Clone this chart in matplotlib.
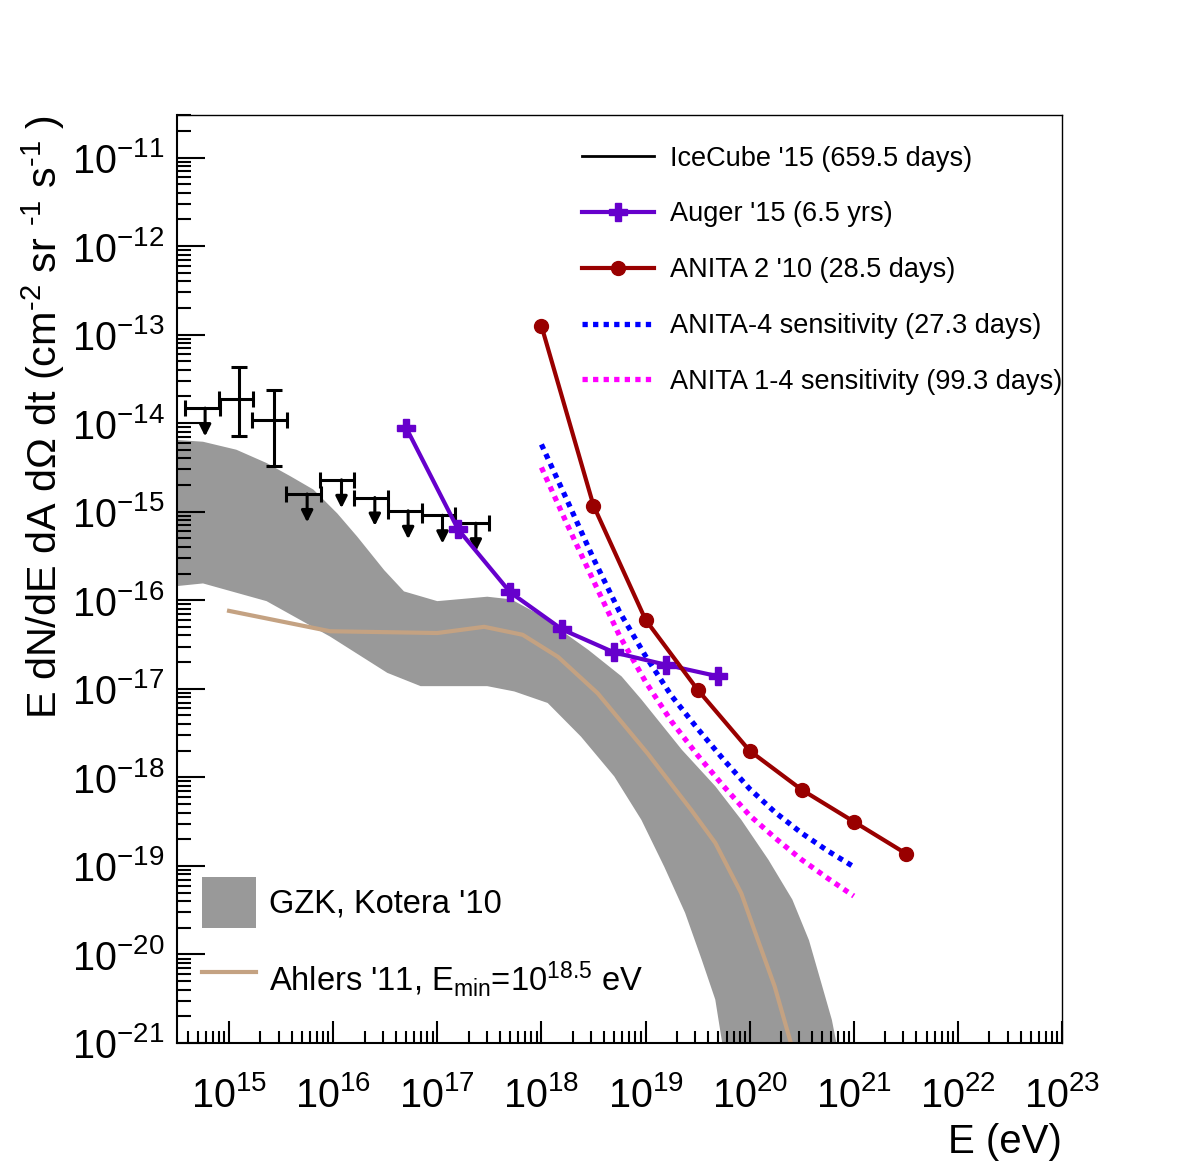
import numpy as np
import matplotlib as mpl
import matplotlib.pyplot as plt
from matplotlib.lines import Line2D
from matplotlib.patches import Patch
from matplotlib.ticker import LogLocator, NullFormatter, LogFormatterSciNotation

plt.rcParams['font.family'] = ['Liberation Sans', 'DejaVu Sans']
plt.rcParams['mathtext.fontset'] = 'custom'
plt.rcParams['mathtext.rm'] = 'Liberation Sans'
plt.rcParams['mathtext.it'] = 'Liberation Sans:italic'
plt.rcParams['mathtext.default'] = 'regular'

# ---- data (log10 E [eV], log10 flux) ----
# IceCube '15: bins, central values, upper limits
ic_lo = [14.58, 14.90, 15.22, 15.55, 15.87, 16.20, 16.53, 16.85, 17.17]
ic_hi = [14.91, 15.23, 15.56, 15.88, 16.20, 16.53, 16.85, 17.17, 17.50]
ic_x = [14.77, 15.10, 15.43, 15.75, 16.08, 16.40, 16.72, 17.05, 17.37]
ic_y = [-13.83, -13.73, -13.96, -14.80, -14.64, -14.84, -14.99, -15.04, -15.13]
ic_yup = [-13.83, -13.37, -13.62, -14.80, -14.64, -14.84, -14.99, -15.04, -15.13]
ic_ydn = [-13.83, -14.15, -14.48, -14.80, -14.64, -14.84, -14.99, -15.04, -15.13]
ic_ul = [1, 0, 0, 1, 1, 1, 1, 1, 1]

# Auger '15
auger_e = [16.7, 17.2, 17.7, 18.2, 18.7, 19.2, 19.7]
auger_f = [-14.05, -15.20, -15.91, -16.33, -16.59, -16.73, -16.86]

# ANITA 2 '10
anita2_e = [18.0, 18.5, 19.0, 19.5, 20.0, 20.5, 21.0, 21.5]
anita2_f = [-12.90, -14.93, -16.22, -17.01, -17.70, -18.14, -18.50, -18.86]

# ANITA-4 and ANITA 1-4 sensitivity
sens_e = [18.0, 18.25, 18.5, 18.75, 19.0, 19.25, 19.5, 19.75, 20.0, 20.25, 20.5, 20.75, 21.0]
anita4_f = [-14.24, -14.88, -15.53, -16.13, -16.63, -17.08, -17.45, -17.80, -18.13, -18.40, -18.63, -18.83, -19.01]
anita14_f = [-14.50, -15.15, -15.78, -16.40, -16.92, -17.37, -17.75, -18.10, -18.43, -18.69, -18.93, -19.14, -19.34]

# GZK Kotera '10 band
gzk_up_e = [14.50, 14.75, 15.07, 15.36, 15.59, 15.81, 16.04, 16.23, 16.49, 16.68, 17.00, 17.48, 17.71,
            17.96, 18.45, 18.77, 18.96, 19.35, 19.67, 19.92, 20.18, 20.41, 20.57, 20.69, 20.79, 20.85]
gzk_up_f = [-14.19, -14.21, -14.30, -14.45, -14.60, -14.75, -15.02, -15.28, -15.66, -15.90, -16.01, -15.96, -15.99,
            -16.15, -16.56, -16.86, -17.12, -17.69, -18.10, -18.48, -18.93, -19.38, -19.84, -20.33, -20.74, -21.10]
gzk_lo_e = [14.50, 14.75, 15.36, 15.97, 16.52, 16.84, 17.48, 17.74, 18.06, 18.38, 18.70, 18.96, 19.18,
            19.38, 19.54, 19.67, 19.75]
gzk_lo_f = [-15.84, -15.81, -16.01, -16.41, -16.82, -16.97, -16.97, -17.03, -17.16, -17.54, -17.99, -18.48, -19.01,
            -19.53, -20.06, -20.51, -21.10]

# Ahlers '11
ahlers_e = [15.0, 15.97, 17.0, 17.45, 17.82, 18.16, 18.54, 19.02, 19.44, 19.67, 19.92, 20.08, 20.24, 20.43]
ahlers_f = [-16.12, -16.35, -16.37, -16.30, -16.39, -16.64, -17.05, -17.73, -18.37, -18.74, -19.31, -19.84, -20.36, -21.14]

purple = '#6600cc'
darkred = '#990000'
tan = '#c4a282'
gray = '#999999'

fig = plt.figure(figsize=(11.82, 11.61), dpi=100)
ax = fig.add_axes([177 / 1182, 1 - 1043 / 1161, 885 / 1182, 928 / 1161])
ax.set_xscale('log')
ax.set_yscale('log')

p = lambda v: 10.0 ** np.asarray(v)

# GZK band as a polygon
band_x = np.concatenate([p(gzk_up_e), p(gzk_lo_e)[::-1]])
band_y = np.concatenate([p(gzk_up_f), p(gzk_lo_f)[::-1]])
ax.fill(band_x, band_y, color=gray, lw=0, zorder=1)

ax.plot(p(ahlers_e), p(ahlers_f), color=tan, lw=3, zorder=2)

# IceCube
for lo, hi, x, y, yu, yd, ul in zip(ic_lo, ic_hi, ic_x, ic_y, ic_yup, ic_ydn, ic_ul):
    ax.errorbar([p(x)], [p(y)], xerr=[[p(x) - p(lo)], [p(hi) - p(x)]], fmt='none',
                ecolor='k', elinewidth=2.2, capsize=6, capthick=2.2, zorder=4)
    if ul:
        ax.annotate('', xy=(p(x), p(y - 0.32)), xytext=(p(x), p(y)),
                    arrowprops=dict(arrowstyle='-|>', lw=2.2, color='k',
                                    mutation_scale=17, shrinkA=0, shrinkB=0), zorder=4)
    else:
        ax.errorbar([p(x)], [p(y)], yerr=[[p(y) - p(yd)], [p(yu) - p(y)]], fmt='none',
                    ecolor='k', elinewidth=2.2, capsize=6, capthick=2.2, zorder=4)

ax.plot(p(sens_e), p(anita4_f), color='#0000ff', lw=3.8, dashes=(1, 1),
        dash_capstyle='butt', zorder=3)
ax.plot(p(sens_e), p(anita14_f), color='#ff00ff', lw=3.8, dashes=(1, 1),
        dash_capstyle='butt', zorder=3)
ax.plot(p(auger_e), p(auger_f), color=purple, lw=3, marker='P', ms=13, zorder=5)
ax.plot(p(anita2_e), p(anita2_f), color=darkred, lw=3, marker='o', ms=10, zorder=5)

ax.set_xlim(10 ** 14.5, 1e23)
ax.set_ylim(1e-21, 10 ** -10.52)

ax.xaxis.set_major_locator(LogLocator(base=10, numticks=30))
ax.yaxis.set_major_locator(LogLocator(base=10, numticks=30))
for a in (ax.xaxis, ax.yaxis):
    a.set_minor_locator(LogLocator(base=10, subs=np.arange(2, 10), numticks=200))
    a.set_minor_formatter(NullFormatter())
    a.set_major_formatter(LogFormatterSciNotation())
ax.tick_params(which='both', direction='in', top=False, right=False, width=1.5, labelsize=28.5)
ax.tick_params(axis='x', which='major', length=16, pad=24)
ax.tick_params(axis='x', which='minor', length=9)
ax.tick_params(axis='y', which='major', length=20, pad=9)
ax.tick_params(axis='y', which='minor', length=10)
for s in ax.spines.values():
    s.set_linewidth(1.5)
ax.spines['top'].set_linewidth(1.0)
ax.spines['right'].set_linewidth(1.0)

ax.set_xlabel('E (eV)', fontsize=29, loc='right')
ax.xaxis.set_label_coords(1.0, -0.086)
ax.set_ylabel('E dN/dE dA d\u03a9 dt (cm$^{\u20102}$ sr $^{\u20101}$ s$^{\u20101}$ )',
              fontsize=29.8, loc='top')
ax.yaxis.set_label_coords(-0.124, 1.0)

handles = [
    Line2D([], [], color='k', lw=2),
    Line2D([], [], color=purple, lw=3, marker='P', ms=13),
    Line2D([], [], color=darkred, lw=3, marker='o', ms=10),
    Line2D([], [], color='#0000ff', lw=3.8, dashes=(1, 1), dash_capstyle='butt'),
    Line2D([], [], color='#ff00ff', lw=3.8, dashes=(1, 1), dash_capstyle='butt'),
]
labels = ["IceCube '15 (659.5 days)", "Auger '15 (6.5 yrs)", "ANITA 2 '10 (28.5 days)",
          "ANITA-4 sensitivity (27.3 days)", "ANITA 1-4 sensitivity (99.3 days)"]
leg1 = ax.legend(handles, labels, loc='upper left', bbox_to_anchor=(0.4576, 0.967),
                 frameon=False, fontsize=19.5, numpoints=1, handlelength=2.65,
                 handletextpad=0.6, labelspacing=1.10, borderpad=0, borderaxespad=0)
ax.add_artist(leg1)

handles2 = [Patch(facecolor=gray, edgecolor='none'), Line2D([], [], color=tan, lw=3)]
labels2 = ["GZK, Kotera '10", "Ahlers '11, E$_{min}$=10$^{18.5}$ eV"]
ax.legend(handles2, labels2, loc='lower left', bbox_to_anchor=(0.028, 0.040),
          frameon=False, fontsize=23.5, handlelength=1.65, handleheight=2.05,
          handletextpad=0.4, labelspacing=0.8, borderpad=0, borderaxespad=0)

fig.savefig('out.png', dpi=100)
